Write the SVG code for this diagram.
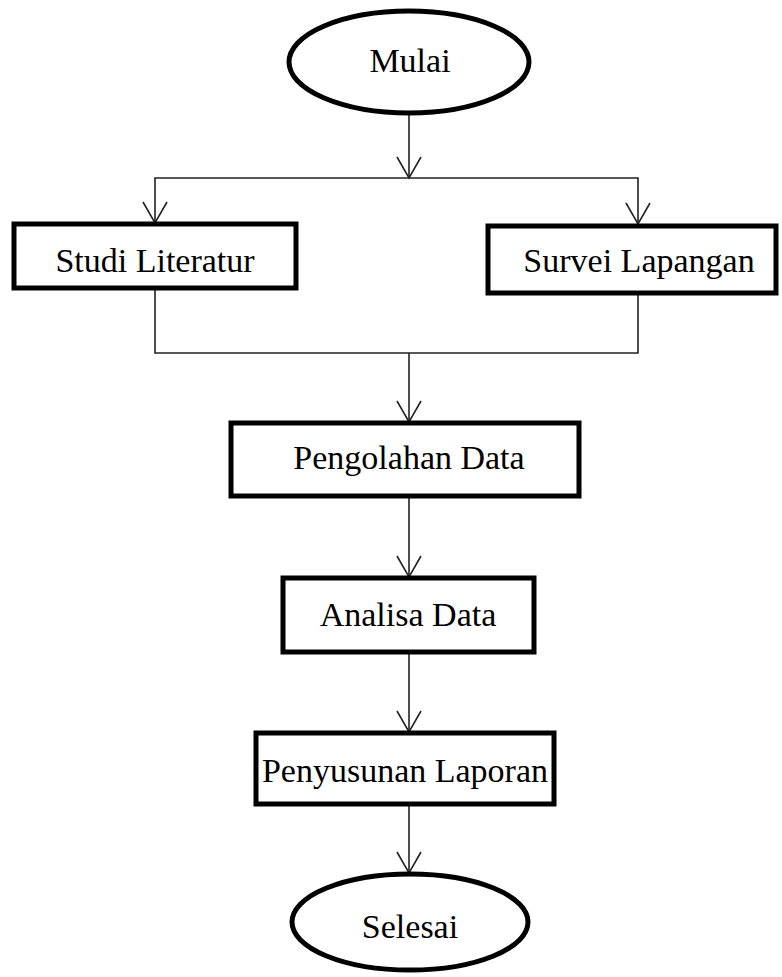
<svg xmlns="http://www.w3.org/2000/svg" width="782" height="977" viewBox="0 0 782 977">
<style>
.n{fill:#fff;stroke:#000;stroke-width:5}
.t{font-family:"Liberation Serif","Times New Roman",serif;font-size:34px;fill:#000;text-anchor:middle}
.c{fill:none;stroke:#222;stroke-width:1.6}
</style>
<defs>
<marker id="ah" markerUnits="userSpaceOnUse" markerWidth="32" markerHeight="32" viewBox="-26 -16 32 32" refX="0" refY="0" orient="auto" overflow="visible">
<path d="M-21,-12 L0,0 L-21,12" fill="none" stroke="#222" stroke-width="1.6"/>
</marker>
</defs>
<rect width="782" height="977" fill="#fff"/>
<g id="connectors">
<path class="c" d="M409,113 V178" marker-end="url(#ah)"/>
<path class="c" d="M409,178 H155 V223" marker-end="url(#ah)"/>
<path class="c" d="M409,178 H638 V224" marker-end="url(#ah)"/>
<path class="c" d="M155,288 V353 H638 V294"/>
<path class="c" d="M409,353 V422" marker-end="url(#ah)"/>
<path class="c" d="M409,497 V577" marker-end="url(#ah)"/>
<path class="c" d="M409,653 V732" marker-end="url(#ah)"/>
<path class="c" d="M409,805 V873" marker-end="url(#ah)"/>
</g>
<g id="mulai"><ellipse class="n" cx="409" cy="62" rx="120" ry="51"/><text class="t" x="410" y="72">Mulai</text></g>
<g id="studi"><rect class="n" x="14" y="224" width="282" height="64"/><text class="t" x="155" y="272">Studi Literatur</text></g>
<g id="survei"><rect class="n" x="488" y="226" width="288" height="67"/><text class="t" x="639" y="272">Survei Lapangan</text></g>
<g id="pengolahan"><rect class="n" x="231" y="423" width="348" height="73"/><text class="t" x="409" y="469">Pengolahan Data</text></g>
<g id="analisa"><rect class="n" x="283" y="578" width="251" height="74"/><text class="t" x="408" y="626">Analisa Data</text></g>
<g id="penyusunan"><rect class="n" x="256" y="733" width="298" height="71"/><text class="t" x="405" y="782">Penyusunan Laporan</text></g>
<g id="selesai"><ellipse class="n" cx="410" cy="922" rx="118" ry="48"/><text class="t" x="410" y="938">Selesai</text></g>
</svg>
